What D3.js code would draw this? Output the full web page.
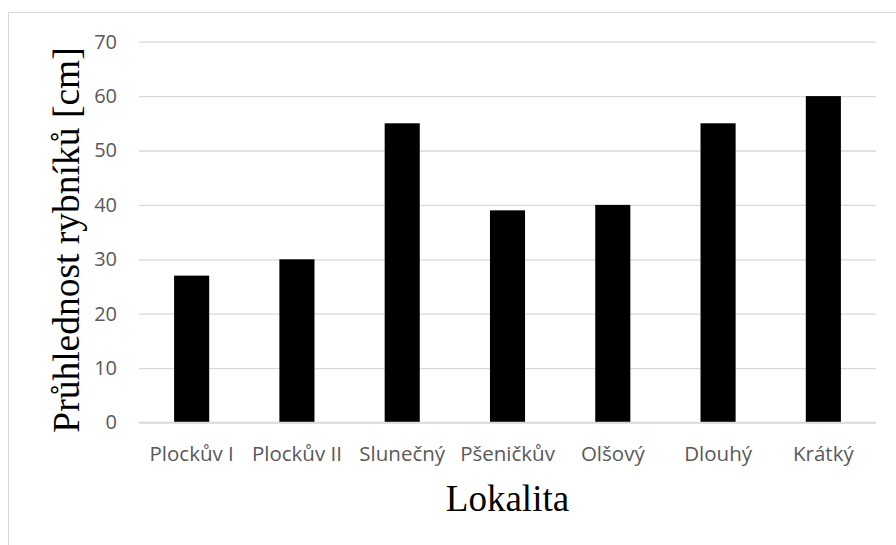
<!DOCTYPE html>
<html>
<head>
<meta charset="utf-8">
<script src="https://cdn.jsdelivr.net/npm/d3@7"></script>
<style>
  html, body { margin: 0; padding: 0; background: #fff; }
  svg { display: block; }
</style>
</head>
<body>
<svg id="chart" width="896" height="545"></svg>
<script>
const categories = ["Plockův I", "Plockův II", "Slunečný", "Pšeničkův", "Olšový", "Dlouhý", "Krátký"];
const values = [27, 30, 55, 39, 40, 55, 60];
const yTicks = [0, 10, 20, 30, 40, 50, 60, 70];
const yTitle = "Průhlednost rybníků [cm]";
const xTitle = "Lokalita";

const svg = d3.select("#chart");
const W = 896, H = 545;
const plot = { left: 139, right: 876, top: 41.7, bottom: 422.5 };

// chart border
svg.append("rect")
  .attr("x", 8.5).attr("y", 12.5)
  .attr("width", W + 10).attr("height", H + 10)
  .attr("fill", "#fff").attr("stroke", "#d9d9d9").attr("stroke-width", 1);

const x = d3.scaleBand()
  .domain(categories)
  .range([plot.left, plot.right])
  .paddingInner(2 / 3)
  .paddingOuter(1 / 3);

const y = d3.scaleLinear()
  .domain([0, 70])
  .range([plot.bottom, plot.top]);

// gridlines + y labels via axis
const yAxis = d3.axisLeft(y)
  .tickValues(yTicks)
  .tickSize(-(plot.right - plot.left))
  .tickPadding(22)
  .tickFormat(d3.format("d"));

const gy = svg.append("g")
  .attr("transform", `translate(${plot.left},0)`)
  .call(yAxis);
gy.select(".domain").remove();
gy.selectAll(".tick line").attr("stroke", "#d9d9d9").attr("stroke-width", 1.3);
gy.selectAll(".tick text")
  .attr("fill", "#595959")
  .style("font-family", "'Open Sans', sans-serif")
  .style("font-size", "20px");

// bars
svg.append("g").selectAll("rect")
  .data(categories.map((c, i) => ({ c, v: values[i] })))
  .join("rect")
  .attr("x", d => x(d.c))
  .attr("width", x.bandwidth())
  .attr("y", d => y(d.v))
  .attr("height", d => y(0) - y(d.v))
  .attr("fill", "#000");

// x axis
const xAxis = d3.axisBottom(x).tickSize(0).tickPadding(0);
const gx = svg.append("g")
  .attr("transform", `translate(0,${plot.bottom})`)
  .call(xAxis);
gx.select(".domain").attr("stroke", "#d9d9d9").attr("stroke-width", 1.3)
  .attr("d", `M${plot.left},0H${plot.right}`);
gx.selectAll(".tick text")
  .attr("fill", "#595959")
  .attr("dy", null)
  .attr("y", 38.5)
  .style("font-family", "'Open Sans', sans-serif")
  .style("font-size", "20.5px");

// y title
svg.append("text")
  .attr("transform", `translate(79,240) rotate(-90)`)
  .attr("text-anchor", "middle")
  .style("font-family", "'Liberation Serif', 'Times New Roman', serif")
  .style("font-size", "37.5px")
  .attr("fill", "#000")
  .text(yTitle);

// x title
svg.append("text")
  .attr("x", (plot.left + plot.right) / 2)
  .attr("y", 510.7)
  .attr("text-anchor", "middle")
  .style("font-family", "'Liberation Serif', 'Times New Roman', serif")
  .style("font-size", "37px")
  .attr("fill", "#000")
  .text(xTitle);
</script>
</body>
</html>
